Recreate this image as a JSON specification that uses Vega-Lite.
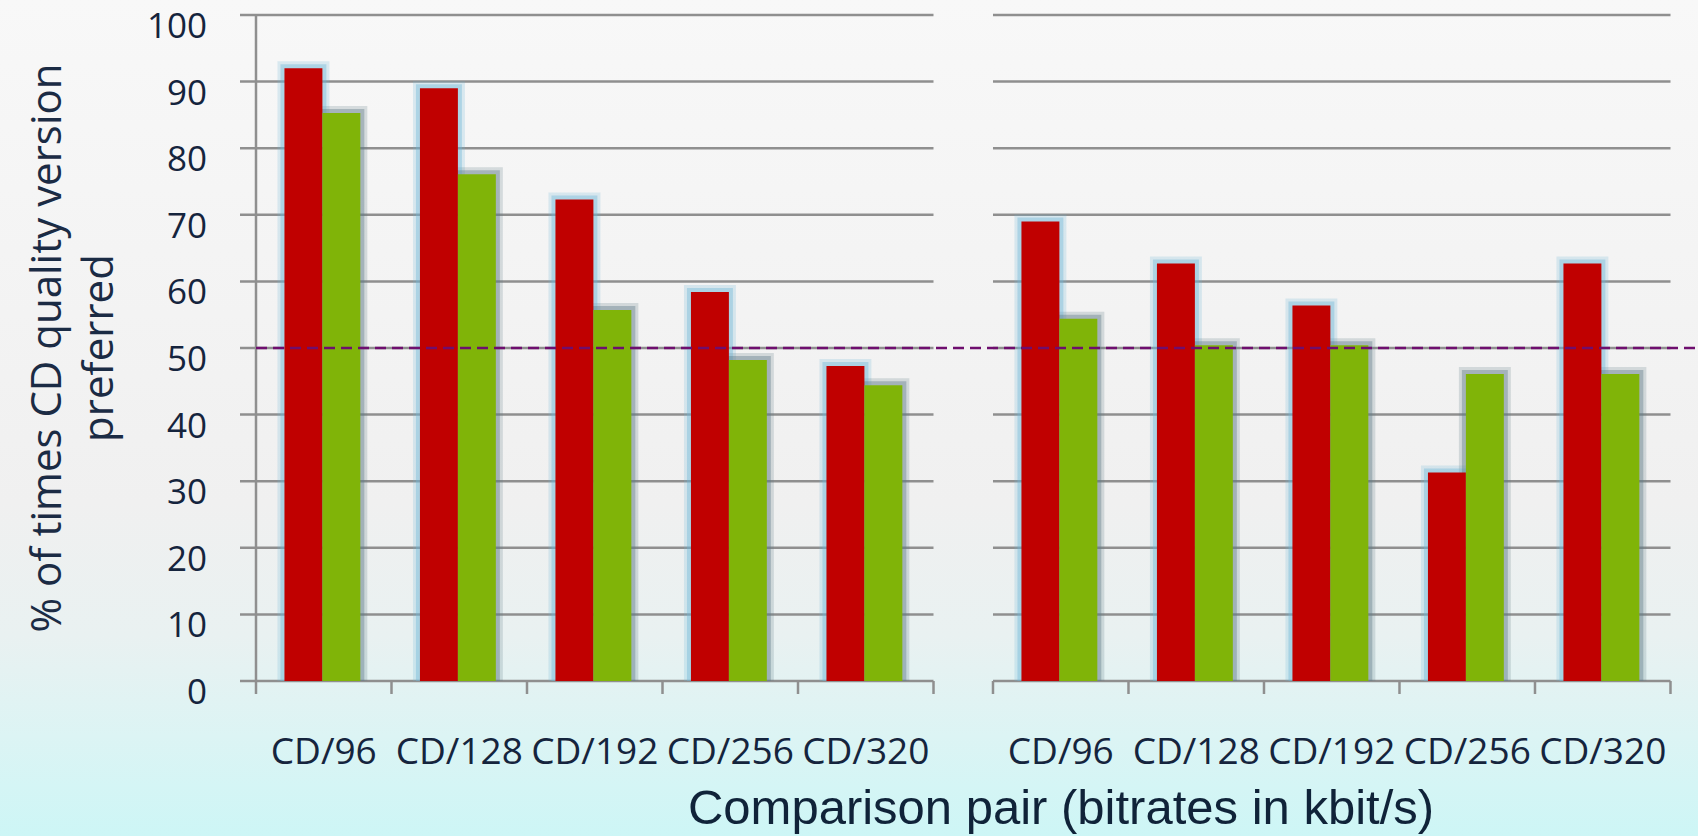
{
  "$schema": "https://vega.github.io/schema/vega-lite/v6.json",
  "width": 1442,
  "height": 666,
  "autosize": {"type": "none"},
  "padding": {"left": 256, "top": 15, "right": 0, "bottom": 155},
  "background": "#eef3f3",
  "view": {"stroke": null},
  "datasets": {
    "grid": [
      {"v": 0}, {"v": 10}, {"v": 20}, {"v": 30}, {"v": 40}, {"v": 50},
      {"v": 60}, {"v": 70}, {"v": 80}, {"v": 90}, {"v": 100}
    ],
    "bars": [
      {"panel": "A", "pair": "CD/96", "series": "S1", "value": 92},
      {"panel": "A", "pair": "CD/96", "series": "S2", "value": 85.3},
      {"panel": "A", "pair": "CD/128", "series": "S1", "value": 89},
      {"panel": "A", "pair": "CD/128", "series": "S2", "value": 76.1},
      {"panel": "A", "pair": "CD/192", "series": "S1", "value": 72.3},
      {"panel": "A", "pair": "CD/192", "series": "S2", "value": 55.7},
      {"panel": "A", "pair": "CD/256", "series": "S1", "value": 58.4},
      {"panel": "A", "pair": "CD/256", "series": "S2", "value": 48.2},
      {"panel": "A", "pair": "CD/320", "series": "S1", "value": 47.3},
      {"panel": "A", "pair": "CD/320", "series": "S2", "value": 44.4},
      {"panel": "B", "pair": "CD/96", "series": "S1", "value": 69},
      {"panel": "B", "pair": "CD/96", "series": "S2", "value": 54.4},
      {"panel": "B", "pair": "CD/128", "series": "S1", "value": 62.7},
      {"panel": "B", "pair": "CD/128", "series": "S2", "value": 50.4},
      {"panel": "B", "pair": "CD/192", "series": "S1", "value": 56.4},
      {"panel": "B", "pair": "CD/192", "series": "S2", "value": 50.4},
      {"panel": "B", "pair": "CD/256", "series": "S1", "value": 31.3},
      {"panel": "B", "pair": "CD/256", "series": "S2", "value": 46.1},
      {"panel": "B", "pair": "CD/320", "series": "S1", "value": 62.7},
      {"panel": "B", "pair": "CD/320", "series": "S2", "value": 46.1}
    ]
  },
  "layer": [
    {
      "data": {"values": [{}]},
      "mark": {
        "type": "rect",
        "fill": {
          "gradient": "linear",
          "x1": 0, "y1": 0, "x2": 0, "y2": 1,
          "stops": [
            {"offset": 0, "color": "#f8f8f8"},
            {"offset": 0.6, "color": "#f0f0f0"},
            {"offset": 0.76, "color": "#e9f1f1"},
            {"offset": 0.88, "color": "#dcf4f4"},
            {"offset": 1, "color": "#cdf6f6"}
          ]
        }
      },
      "encoding": {
        "x": {"datum": -1.9, "type": "quantitative",
          "scale": {"domain": [0, 10.642], "nice": false, "zero": false}, "axis": null},
        "x2": {"datum": 10.642},
        "y": {"datum": 102.3, "type": "quantitative",
          "scale": {"domain": [0, 100], "nice": false, "zero": false}, "axis": null},
        "y2": {"datum": -23.4}
      }
    },
    {
      "data": {"name": "grid"},
      "mark": {"type": "rule", "color": "#8f8f8f", "strokeWidth": 2.5},
      "encoding": {
        "y": {"field": "v", "type": "quantitative", "axis": null},
        "x": {"datum": -0.118, "type": "quantitative", "axis": null},
        "x2": {"datum": 5}
      }
    },
    {
      "data": {"name": "grid"},
      "mark": {"type": "rule", "color": "#8f8f8f", "strokeWidth": 2.5},
      "encoding": {
        "y": {"field": "v", "type": "quantitative", "axis": null},
        "x": {"datum": 5.439, "type": "quantitative", "axis": null},
        "x2": {"datum": 10.439}
      }
    },
    {
      "data": {"values": [{}]},
      "mark": {"type": "rule", "color": "#8f8f8f", "strokeWidth": 2.5},
      "encoding": {
        "x": {"datum": 0, "type": "quantitative", "axis": null},
        "y": {"datum": 0, "type": "quantitative", "axis": null},
        "y2": {"datum": 100}
      }
    },
    {
      "data": {"name": "grid"},
      "mark": {"type": "text", "align": "right", "baseline": "alphabetic", "dy": 23,
        "font": "Open Sans", "fontSize": 35, "color": "#15243d"},
      "encoding": {
        "y": {"field": "v", "type": "quantitative", "axis": null},
        "x": {"datum": -0.362, "type": "quantitative", "axis": null},
        "text": {"field": "v", "type": "quantitative"}
      }
    },
    {
      "data": {"name": "bars"},
      "transform": [
        {"calculate": "indexof(['CD/96','CD/128','CD/192','CD/256','CD/320'], datum.pair) + 0.5 + (datum.panel === 'B' ? 5.439 : 0)", "as": "c"},
        {"calculate": "datum.series === 'S1' ? datum.c - 0.29 : datum.c - 0.01", "as": "xa"},
        {"calculate": "datum.series === 'S1' ? datum.c - 0.01 : datum.c + 0.27", "as": "xb"},
        {"calculate": "datum.c - 0.5", "as": "tickStart"},
        {"calculate": "datum.c + 0.5", "as": "tickEnd"}
      ],
      "layer": [
        {
          "transform": [{"filter": "datum.series === 'S1'"}],
          "mark": {"type": "rule", "color": "#8f8f8f", "strokeWidth": 2.5},
          "encoding": {
            "x": {"field": "tickStart", "type": "quantitative", "axis": null},
            "y": {"datum": 0, "type": "quantitative", "axis": null},
            "y2": {"datum": -1.95}
          }
        },
        {
          "transform": [{"filter": "datum.series === 'S1' && datum.pair === 'CD/320'"}],
          "mark": {"type": "rule", "color": "#8f8f8f", "strokeWidth": 2.5},
          "encoding": {
            "x": {"field": "tickEnd", "type": "quantitative", "axis": null},
            "y": {"datum": 0, "type": "quantitative", "axis": null},
            "y2": {"datum": -1.95}
          }
        },
        {
          "mark": {"type": "rect", "opacity": 0.22, "xOffset": -7, "x2Offset": 7, "yOffset": -7},
          "encoding": {
            "x": {"field": "xa", "type": "quantitative", "axis": null},
            "x2": {"field": "xb"},
            "y": {"field": "value", "type": "quantitative", "axis": null},
            "y2": {"datum": 0},
            "color": {"field": "series", "type": "nominal",
              "scale": {"domain": ["S1", "S2"], "range": ["#6fb6d8", "#5f7a86"]}, "legend": null}
          }
        },
        {
          "mark": {"type": "rect", "opacity": 0.4, "xOffset": -4, "x2Offset": 4, "yOffset": -4},
          "encoding": {
            "x": {"field": "xa", "type": "quantitative", "axis": null},
            "x2": {"field": "xb"},
            "y": {"field": "value", "type": "quantitative", "axis": null},
            "y2": {"datum": 0},
            "color": {"field": "series", "type": "nominal",
              "scale": {"domain": ["S1", "S2"], "range": ["#6fb6d8", "#5f7a86"]}, "legend": null}
          }
        },
        {
          "mark": {"type": "rect"},
          "encoding": {
            "x": {"field": "xa", "type": "quantitative", "axis": null},
            "x2": {"field": "xb"},
            "y": {"field": "value", "type": "quantitative", "axis": null},
            "y2": {"datum": 0},
            "fill": {"field": "series", "type": "nominal",
              "scale": {"domain": ["S1", "S2"], "range": ["#c00000", "#80b408"]}, "legend": null}
          }
        },
        {
          "transform": [{"filter": "datum.series === 'S1'"}],
          "mark": {"type": "text", "align": "center", "baseline": "alphabetic",
            "font": "Open Sans", "fontSize": 37, "color": "#15243d"},
          "encoding": {
            "x": {"field": "c", "type": "quantitative", "axis": null},
            "y": {"datum": -12.5, "type": "quantitative", "axis": null},
            "text": {"field": "pair", "type": "nominal"}
          }
        }
      ]
    },
    {
      "data": {"values": [{}]},
      "mark": {"type": "rule", "color": "#6e0e6e", "strokeWidth": 2.5, "strokeDash": [11, 6]},
      "encoding": {
        "y": {"datum": 50, "type": "quantitative", "axis": null},
        "x": {"datum": 0, "type": "quantitative", "axis": null},
        "x2": {"datum": 10.642}
      }
    },
    {
      "data": {"values": [{}]},
      "mark": {"type": "text", "align": "center", "baseline": "alphabetic", "angle": 270,
        "font": "Open Sans", "fontSize": 42, "lineHeight": 52, "color": "#1b2b44",
        "text": ["% of times CD quality version", "preferred"]},
      "encoding": {
        "x": {"datum": -1.44, "type": "quantitative", "axis": null},
        "y": {"datum": 50, "type": "quantitative", "axis": null}
      }
    },
    {
      "data": {"values": [{}]},
      "mark": {"type": "text", "align": "center", "baseline": "alphabetic",
        "font": "Liberation Sans", "fontSize": 49, "color": "#102339",
        "text": "Comparison pair (bitrates in kbit/s)"},
      "encoding": {
        "x": {"datum": 5.941, "type": "quantitative", "axis": null},
        "y": {"datum": -21.5, "type": "quantitative", "axis": null}
      }
    }
  ]
}
